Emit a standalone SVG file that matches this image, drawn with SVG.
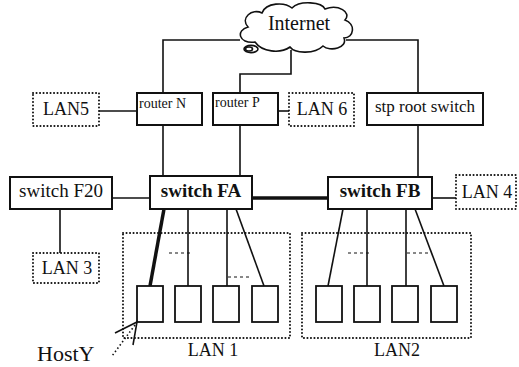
<svg xmlns="http://www.w3.org/2000/svg" width="519" height="367" viewBox="0 0 519 367">
<style>
text{font-family:"Liberation Serif","Times New Roman",serif;fill:#111}
.box{fill:#fff;stroke:#111;stroke-width:2}
.dot{fill:#fff;stroke:#111;stroke-width:2;stroke-dasharray:0.1 3.4;stroke-linecap:round}
.ln{fill:none;stroke:#111;stroke-width:1.6}
.thick{fill:none;stroke:#111;stroke-width:3.5}
.dash{fill:none;stroke:#111;stroke-width:1;stroke-dasharray:3 3}
.host{fill:#fff;stroke:#111;stroke-width:1.8}
</style>
<g id="connectors">
<path class="ln" d="M240,40 H163 V93"/>
<path class="ln" d="M240,93 V74 H291 V50"/>
<path class="ln" d="M346,40 H418 V93"/>
<path class="ln" d="M99,111 H137"/>
<path class="ln" d="M278,111 H289"/>
<path class="ln" d="M163,125 V176"/>
<path class="ln" d="M240,125 V176"/>
<path class="ln" d="M418,125 V177"/>
<path class="ln" d="M112,198 H150"/>
<path class="thick" d="M252,198 H328"/>
<path class="ln" d="M432,198 H456"/>
<path class="ln" d="M60,209 V253"/>
<path class="thick" d="M164,209 L150,286"/>
<path class="ln" d="M188,209 V286"/>
<path class="ln" d="M227,209 V286"/>
<path class="ln" d="M236,209 L264,286"/>
<path class="ln" d="M343,209 L328,286"/>
<path class="ln" d="M367,209 V286"/>
<path class="ln" d="M406,209 V286"/>
<path class="ln" d="M415,209 L444,286"/>
<path class="dash" d="M169,253 H191"/>
<path class="dash" d="M228,277 H250"/>
<path class="dash" d="M348,253 H370"/>
<path class="dash" d="M407,253 H432"/>
</g>
<g id="internet">
<path d="M255,42 C238,44 236,30 248,27 C240,18 252,8 262,13 C266,2 285,2 292,8 C300,0 322,2 325,9 C338,4 352,12 345,20 C356,24 354,38 344,38 C348,48 330,52 323,46 C315,54 295,54 290,47 C280,54 262,52 255,42 Z" fill="#fff" stroke="#111" stroke-width="1.6"/>
<ellipse cx="251" cy="49" rx="7" ry="3.6" fill="#fff" stroke="#111" stroke-width="1.6"/>
<ellipse cx="249" cy="49" rx="3.5" ry="2" fill="none" stroke="#111" stroke-width="1.6"/>
<text x="299" y="30" font-size="20" text-anchor="middle">Internet</text>
</g>
<g id="lan5"><rect class="dot" x="33" y="93" width="66" height="33"/><text x="66" y="115" font-size="18" text-anchor="middle">LAN5</text></g>
<g id="routerN"><rect class="box" x="137" y="93" width="65" height="32"/><text x="139" y="108" font-size="14">router N</text></g>
<g id="routerP"><rect class="box" x="213" y="93" width="65" height="32"/><text x="215" y="107" font-size="14">router P</text></g>
<g id="lan6"><rect class="dot" x="289" y="93" width="65" height="33"/><text x="322" y="115" font-size="18" text-anchor="middle">LAN 6</text></g>
<g id="stproot"><rect class="box" x="367" y="93" width="116" height="32"/><text x="425" y="112" font-size="17" text-anchor="middle">stp root switch</text></g>
<g id="switchF20"><rect class="box" x="10" y="177" width="102" height="32"/><text x="61" y="197" font-size="19" text-anchor="middle">switch F20</text></g>
<g id="switchFA"><rect class="box" x="150" y="176" width="102" height="33"/><text x="201" y="197" font-size="19" font-weight="bold" text-anchor="middle">switch FA</text></g>
<g id="switchFB"><rect class="box" x="328" y="177" width="104" height="32"/><text x="380" y="197" font-size="19" font-weight="bold" text-anchor="middle">switch FB</text></g>
<g id="lan4"><rect class="dot" x="456" y="175" width="60" height="34"/><text x="487" y="198" font-size="18" text-anchor="middle">LAN 4</text></g>
<g id="lan3"><rect class="dot" x="33" y="253" width="66" height="30"/><text x="67" y="274" font-size="18" text-anchor="middle">LAN 3</text></g>
<g id="lan1">
<rect class="dot" x="123" y="233" width="167" height="105" style="fill:none"/>
<rect class="host" x="137" y="286" width="26" height="36"/>
<rect class="host" x="175" y="286" width="26" height="36"/>
<rect class="host" x="213" y="286" width="26" height="36"/>
<rect class="host" x="252" y="286" width="26" height="36"/>
<text x="213" y="356" font-size="18" text-anchor="middle">LAN 1</text>
</g>
<g id="lan2">
<rect class="dot" x="302" y="233" width="169" height="105" style="fill:none"/>
<rect class="host" x="316" y="286" width="26" height="36"/>
<rect class="host" x="354" y="286" width="26" height="36"/>
<rect class="host" x="392" y="286" width="26" height="36"/>
<rect class="host" x="431" y="286" width="26" height="36"/>
<text x="397" y="356" font-size="18" text-anchor="middle">LAN2</text>
</g>
<g id="hostY">
<path class="ln" d="M115,333 L137,322 L133,345" stroke-width="2.2"/>
<path d="M135,325 L112,356" fill="none" stroke="#111" stroke-width="1.6" stroke-dasharray="1.5 2.5"/>
<text x="37" y="361" font-size="22">HostY</text>
</g>
</svg>
